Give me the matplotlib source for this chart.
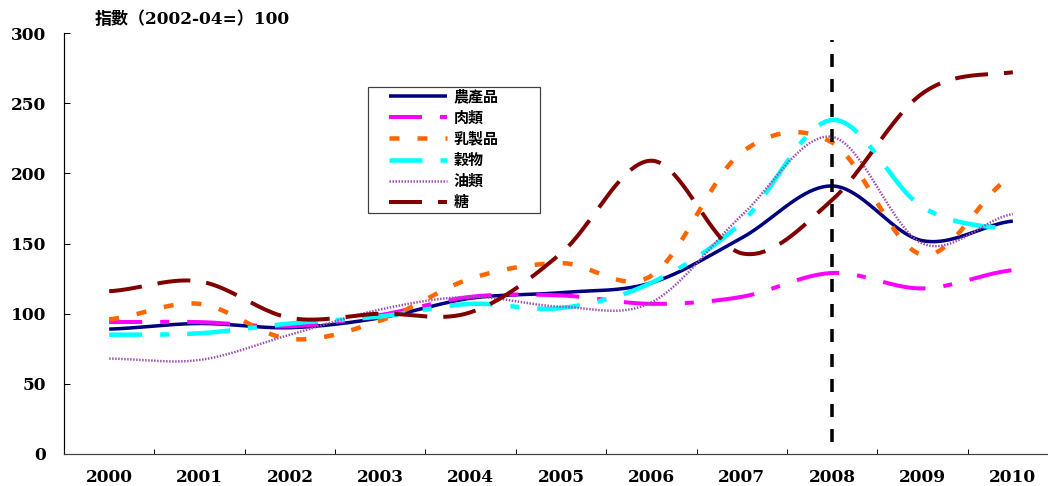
import numpy as np
import matplotlib
matplotlib.use("Agg")
import matplotlib.pyplot as plt
from matplotlib.patches import Rectangle

plt.rcParams['lines.scale_dashes'] = False

years = [str(y) for y in range(2000, 2011)]
agri = [89, 93, 90, 97, 111, 115, 122, 154, 191, 152, 166]
meat = [94, 94, 91, 99, 112, 113, 107, 112, 129, 118, 131]
dairy = [96, 107, 82, 95, 125, 136, 127, 215, 222, 142, 198]
cereals = [85, 86, 93, 98, 107, 104, 122, 165, 238, 176, 160]
oils = [68, 67, 85, 103, 112, 105, 108, 170, 226, 150, 171]
sugar = [116, 123, 97, 100, 101, 143, 209, 143, 181, 257, 272]

labels = ['農產品', '肉類', '乳製品', '穀物', '油類', '糖']
colors = ['#000080', '#FF00FF', '#FF6600', '#00FFFF', '#A050B0', '#800000']
widths = [3.5, 4, 4.5, 4.5, 2.5, 4]
styles = ['-', (10, (43, 18, 9, 18)), (0, (10, 18)), (10, (43, 18, 9, 18)),
          (0, (1.5, 1.5)), (0, (33, 16))]
marker_year = '2008'

CJK = ['Noto Sans CJK TC', 'DejaVu Sans']
NUM = ['DejaVu Serif', 'Noto Sans CJK TC']


def smooth(vals, n=40):
    # Catmull-Rom through yearly points, like the smoothed line in a spreadsheet
    p = np.asarray(vals, float)
    ext = np.concatenate([[p[0]], p, [p[-1]]])
    xs, ys = [], []
    for i in range(len(p) - 1):
        p0, p1, p2, p3 = ext[i], ext[i + 1], ext[i + 2], ext[i + 3]
        m1 = (p2 - p0) / 2
        m2 = (p3 - p1) / 2
        t = np.linspace(0, 1, n, endpoint=False)
        h00 = 2 * t**3 - 3 * t**2 + 1
        h10 = t**3 - 2 * t**2 + t
        h01 = -2 * t**3 + 3 * t**2
        h11 = t**3 - t**2
        ys.append(h00 * p1 + h10 * m1 + h01 * p2 + h11 * m2)
        xs.append(i + 0.5 + t)
    xs.append([len(p) - 0.5])
    ys.append([p[-1]])
    return np.concatenate(xs), np.concatenate(ys)


W, H = 1048, 486
fig = plt.figure(figsize=(W / 72, H / 72), dpi=72)
ax = fig.add_axes([64 / W, (H - 454) / H, 994 / W, 421 / H])

series = [agri, meat, dairy, cereals, oils, sugar]
for vals, lab, c, lw, ls in zip(series, labels, colors, widths, styles):
    x, y = smooth(vals)
    ax.plot(x, y, color=c, lw=lw, linestyle=ls, label=lab,
            solid_capstyle='butt', dash_capstyle='butt')

ax.axvline(years.index(marker_year) + 0.5, ymin=0.028, ymax=0.983,
           color='black', lw=3.5, linestyle=(0, (13, 12)))

ax.set_xlim(0, len(years))
ax.set_ylim(0, 300)
ax.set_yticks(np.arange(0, 301, 50))
ax.set_xticks(np.arange(0, len(years) + 1))
ax.set_xticklabels([])
ax.set_xticks(np.arange(len(years)) + 0.5, minor=True)
ax.set_xticklabels(years, minor=True)
ax.tick_params(axis='x', which='major', direction='in', length=5, width=1)
ax.tick_params(axis='x', which='minor', length=0, pad=15)
ax.tick_params(axis='y', direction='in', length=6, width=1, pad=18)
for lab in ax.get_xticklabels(minor=True) + ax.get_yticklabels():
    lab.set_family(NUM)
    lab.set_fontweight('bold')
    lab.set_fontsize(17)

for s in ['top', 'right']:
    ax.spines[s].set_visible(False)
ax.spines['left'].set_linewidth(1.2)
ax.spines['bottom'].set_linewidth(1.2)
ax.spines['bottom'].set_color('#404040')

ax.add_patch(Rectangle((368 / W, 1 - 213 / H), 172 / W, 126 / H,
                       transform=fig.transFigure, facecolor='white',
                       edgecolor='#404040', lw=1.2, zorder=4))
leg = ax.legend(loc='upper left', bbox_to_anchor=(389 / W, 1 - 88 / H),
                bbox_transform=fig.transFigure, frameon=False,
                borderpad=0, borderaxespad=0, handlelength=58 / 15,
                handletextpad=0.45, labelspacing=0.35,
                prop={'family': CJK, 'weight': 'bold', 'size': 15})
leg.set_zorder(5)

fig.text(95 / W, 1 - 20 / H, '指數（2002-04=）100', family=NUM,
         fontweight='bold', fontsize=17, va='center', ha='left')

fig.savefig('out.png', dpi=72)
